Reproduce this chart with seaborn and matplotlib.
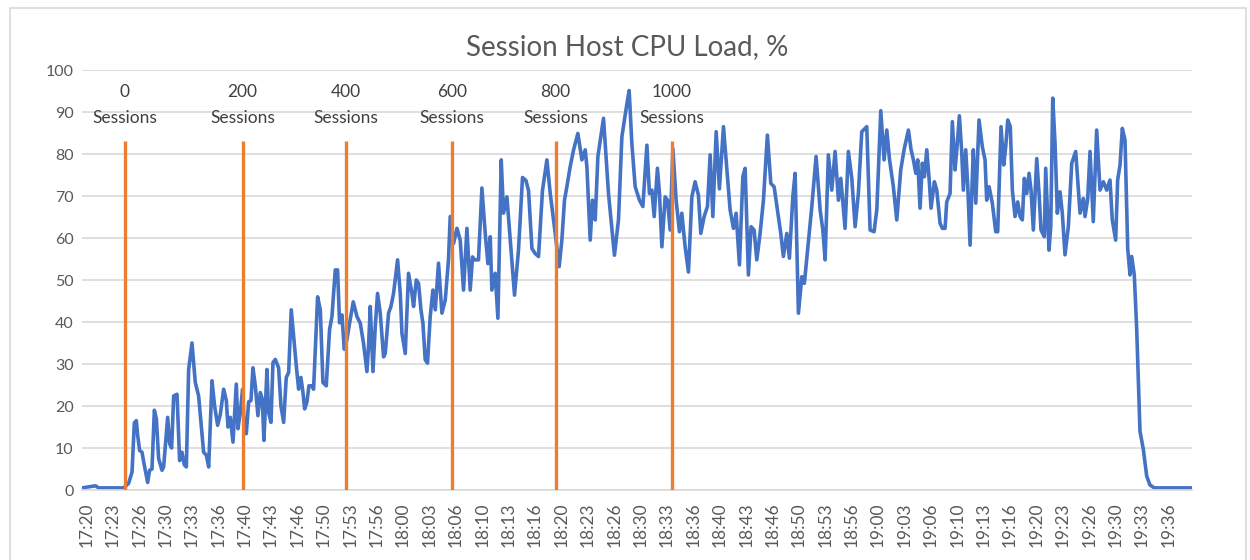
import matplotlib
matplotlib.use("Agg")
import matplotlib.pyplot as plt
import seaborn as sns
import pandas as pd
from matplotlib.patches import Rectangle

# minutes since 17:20 and CPU load (%)
minutes = [
    -0.55, 1.14, 1.56, 4.71, 5.34, 5.77, 6.06, 6.31, 6.48, 6.73, 7.03, 7.24, 7.49, 7.74, 7.99, 8.29,
    8.59, 8.84, 9.13, 9.55, 9.76, 10.27, 10.52, 10.77, 11.03, 11.45, 11.78, 12.08, 12.37, 12.63, 12.92,
    13.34, 13.76, 14.18, 14.81, 15.15, 15.45, 15.87, 16.2, 16.58, 16.92, 17.34, 17.68, 17.89, 18.18,
    18.52, 18.94, 19.15, 19.44, 19.74, 19.95, 20.2, 20.5, 20.79, 21.04, 21.34, 21.67, 21.97, 22.22,
    22.43, 22.81, 23.02, 23.32, 23.57, 23.86, 24.28, 24.58, 24.92, 25.25, 25.55, 25.88, 26.18, 26.52,
    26.81, 27.1, 27.36, 27.57, 27.86, 28.11, 28.49, 28.7, 29.21, 29.55, 29.88, 30.3, 30.72, 31.02,
    31.44, 31.73, 31.98, 32.28, 32.58, 32.91,
    33.21, 33.71, 34.18, 34.6, 35.01, 35.44, 35.64, 35.86, 36.2, 36.49, 36.78, 37.12, 37.54, 37.75,
    38.17, 38.47, 38.8, 39.31, 39.65, 39.86, 40.28, 40.69, 41.12, 41.33, 41.67, 41.96, 42.26, 42.51,
    42.8, 43.09, 43.43, 43.77, 44.07, 44.48, 44.91, 45.33, 45.74, 45.96,
    46.38, 46.81, 47.22, 47.64, 48.07, 48.48, 48.78, 49.03, 49.53, 49.96, 50.38, 50.72, 51.01, 51.22,
    51.64, 51.98, 52.4, 52.69, 53.12, 53.54, 54.08, 54.58, 55.09, 55.52, 55.85, 56.28, 56.69, 57.11,
    57.61, 58.17, 58.59, 59.22, 59.72, 60.06, 60.39, 60.69, 61.11, 61.53, 62.08, 62.59, 63.01, 63.22,
    63.64, 63.93, 64.27, 64.61, 65.32, 65.95, 66.7, 67.21, 67.64, 68.27, 68.56, 68.9, 69.32,
    69.86, 70.29, 70.8, 71.12, 71.43, 71.72, 72.13, 72.39, 72.69, 73.11, 73.4, 73.74, 74.08, 74.49,
    74.91, 75.21, 75.63, 76.05, 76.48, 76.89, 77.31, 77.61, 78.03, 78.45, 78.79, 79.13, 79.55, 79.96,
    80.47, 80.9, 81.31, 81.73, 82.07, 82.49, 82.92, 83.21, 83.62, 83.96, 84.34, 84.68, 85.1, 85.52,
    86.02, 86.45, 86.87, 87.29, 87.71, 88.04, 88.47, 88.8, 89.23, 89.52, 89.94, 90.37, 90.69, 91.2,
    91.63, 92.17, 92.68, 93.02, 93.31, 93.72, 94.15, 94.57, 94.99, 95.29, 95.83, 96.25, 96.68, 97.1,
    97.51, 97.94, 98.57, 98.99, 99.49, 99.84, 100.34, 100.76, 101.1, 101.43, 101.93, 102.36, 102.86,
    103.28,
    103.83, 104.17, 104.46, 104.76, 105.01, 105.3, 105.59, 105.85, 106.15, 106.44, 106.69, 107.11,
    107.41, 107.83, 108.12, 108.46, 108.67, 109.09, 109.38, 109.72, 109.94, 110.27, 110.57, 110.77,
    111.07, 111.33, 111.62, 111.83, 112.03, 112.34, 112.75, 113.17, 113.51, 113.72, 114.02, 114.43,
    114.86, 115.11, 115.53, 115.87, 116.12, 116.38, 116.7, 116.96, 117.3, 117.64, 117.93, 118.22,
    118.47, 118.78, 119.07, 119.32, 119.61, 120.04, 120.33, 120.58, 121.0, 121.17, 121.59, 121.81,
    122.06, 122.35, 122.64, 122.98, 123.27, 123.61, 124.03, 124.46, 124.96, 125.51, 125.92, 126.14,
    126.48, 126.77, 127.18, 127.61, 128.03, 128.45, 128.88, 129.29, 129.58, 130.01, 130.26, 130.56,
    130.85, 131.19, 131.53, 131.82, 132.03, 132.36, 132.66, 133.08, 133.5, 133.93, 134.34, 134.89,
    139.61,
]
cpu_load = [
    0.5, 1, 0.5, 0.5, 1.6, 4.3, 16, 16.5, 13, 9.4, 9, 6.7, 4.3, 1.8, 4.7, 5,
    19, 17, 7.5, 4.7, 5.5, 17.3, 11, 10, 22.4, 22.8, 7, 9, 6, 5.5, 28.7,
    35, 25.6, 22.4, 9, 8.3, 5.5, 26, 20, 15.4, 18, 24, 21.3, 15, 17.3,
    11.4, 25.2, 14.6, 18.5, 24, 14.2, 13.4, 21, 21.3, 29.1, 24.8, 17.7, 23.2, 21.7,
    11.8, 28.7, 18.5, 16.1, 30.3, 31.1, 29.1, 20, 16.1, 26.8, 28, 42.9, 36.6, 29.5,
    24, 26.8, 23.2, 19.3, 20.9, 24.8, 24.8, 24, 46, 42.9, 25.6, 24.8, 38.2, 41.3,
    52.4, 52.4, 39.8, 41.7, 33.5, 35.8,
    39.3, 44.8, 41.3, 39.7, 34.9, 28.2, 34.1, 43.7, 28.2, 38.9, 46.8, 42.1, 31.7, 32.5,
    42.1, 43.7, 46.8, 54.8, 46.8, 37.3, 32.5, 51.6, 46.8, 43.7, 50, 49.2, 42.9, 39.7,
    31, 30.2, 41.3, 47.6, 42.9, 54, 42.1, 45.2, 54.8, 65.1,
    58.7, 62.3, 59.5, 47.6, 62.3, 47.6, 55.5, 54.8, 54.8, 71.9, 61.1, 53.9, 60.3, 47.6,
    51.6, 40.9, 78.6, 65.9, 69.8, 59.5, 46.4, 57.1, 74.4, 73.7, 71.3, 57.5, 56.3, 55.6,
    71.3, 78.6, 70.6, 61.1, 53.2, 59.5, 69, 72.2, 77, 80.9, 84.9, 78.6, 81, 77,
    59.5, 69, 64.3, 79.4, 88.5, 70.6, 55.9, 64.3, 84.1, 91.9, 95.1, 82.5, 72.2,
    69, 67.5, 82.1, 70.6, 71.4, 65.1, 76.6, 70.6, 57.9, 69.8, 69, 61.9, 81.3, 69,
    61.5, 65.9, 57.9, 51.9, 69.8, 73.4, 70.2, 61.1, 65.1, 67.5, 79.8, 65.1, 85.3, 71.7,
    86.5, 76.2, 66.7, 62.3, 65.9, 53.6, 74.6, 76.6, 51.2, 62.7, 61.9, 54.8, 61.1, 69,
    84.5, 73, 72.2, 66.7, 61.1, 55.6, 61.1, 55.2, 69.8, 75.4, 42.1, 50.8, 49.2, 59.1,
    67.5, 79.4, 66.7, 61.9, 54.8, 79.8, 71.4, 80.6, 69, 74.2, 62.3, 80.6, 74.2, 62.7,
    70.6, 85.3, 86.5, 61.9, 61.5, 66.7, 90.3, 78.6, 85.7, 78.9, 72.2, 64.3, 76.2,
    81,
    85.7, 81, 78.6, 75.4, 78.6, 67.1, 77.8, 74.6, 81, 74.2, 67.1, 73.4,
    71.4, 63.5, 62.3, 62.3, 68.6, 70.6, 87.7, 76.2, 81, 89.1, 80.2, 71.4,
    81, 72.2, 58.3, 70.6, 81, 68.3, 88.1, 81.7, 78.6, 69, 72.2, 68.3,
    61.5, 61.5, 86.5, 77.4, 81.7, 88.1, 86.5, 71.4, 65.1, 68.6, 65.1, 64.3,
    74.2, 70.6, 75.4, 71.4, 61.9, 78.9, 70.6, 61.9, 60.3, 76.6, 57.1, 62.7,
    93.3, 82.5, 65.9, 71, 65.9, 56, 62.7, 77.8, 80.6, 65.9, 69.4, 65.1,
    69.4, 80.6, 63.9, 85.7, 71.4, 73.4, 71.4, 73.8, 64.3, 59.5, 73.8, 77.4,
    86.1, 83.3, 57.5, 51.2, 55.6, 51.2, 38.6, 14, 9.7, 3.3, 1.2, 0.5,
    0.5,
]

# session markers (minutes since 17:20)
session_counts = ["0", "200", "400", "600", "800", "1000"]
session_minutes = [4.84, 19.74, 32.79, 46.17, 59.26, 73.95]
marker_height = 83

time_labels = [
    "17:20", "17:23", "17:26", "17:30", "17:33", "17:36", "17:40", "17:43", "17:46", "17:50",
    "17:53", "17:56", "18:00", "18:03", "18:06", "18:10", "18:13", "18:16", "18:20", "18:23",
    "18:26", "18:30", "18:33", "18:36", "18:40", "18:43", "18:46", "18:50", "18:53", "18:56",
    "19:00", "19:03", "19:06", "19:10", "19:13", "19:16", "19:20", "19:23", "19:26", "19:30",
    "19:33", "19:36",
]
label_step = 10 / 3  # one label every 3 min 20 s

sns.set_theme(style="white")
plt.rcParams['font.family'] = ['Lato', 'DejaVu Sans']

BLUE = "#4472C4"
ORANGE = "#ED7D31"
GRID = "#D9D9D9"
TEXT = "#595959"

df = pd.DataFrame({"minute": minutes, "load": cpu_load})

fig = plt.figure(figsize=(12.5, 5.6), dpi=100)
ax = fig.add_axes([0.0656, 0.125, 0.888, 0.75])

sns.lineplot(data=df, x="minute", y="load", ax=ax, color=BLUE, linewidth=2.6, sort=False)
ax.vlines(session_minutes, 0, marker_height, color=ORANGE, linewidth=2.4, zorder=3)

for m, n in zip(session_minutes, session_counts):
    ax.text(m, 94.8, n, ha="center", va="center", fontsize=12.5, color="#404040")
    ax.text(m, 88.6, "Sessions", ha="center", va="center", fontsize=12.5, color="#404040")

ax.set_xlim(-0.55, 139.65)
ax.set_ylim(0, 100)
ax.set_yticks(range(0, 101, 10))
ax.set_xticks([i * label_step for i in range(len(time_labels))])
ax.set_xticklabels(time_labels, rotation=90)
ax.tick_params(axis="y", length=0, colors=TEXT, labelsize=11.5, pad=6)
ax.tick_params(axis="x", length=0, colors=TEXT, labelsize=12.5, pad=9)
ax.set_xlabel("")
ax.set_ylabel("")
ax.grid(axis="y", color=GRID, linewidth=1.2)
ax.set_axisbelow(True)
for side in ["top", "right", "left"]:
    ax.spines[side].set_visible(False)
ax.spines["bottom"].set_color(GRID)
ax.spines["bottom"].set_linewidth(1.2)

fig.text(0.502, 0.916, "Session Host CPU Load, %", ha="center", va="center",
         fontsize=20, color=TEXT)

# light chart border like the Excel chart area
fig.patches.append(Rectangle((0.008, -0.05), 0.989, 1.036, transform=fig.transFigure,
                             fill=False, edgecolor=GRID, linewidth=1.2))

fig.savefig("out.png", dpi=100)
